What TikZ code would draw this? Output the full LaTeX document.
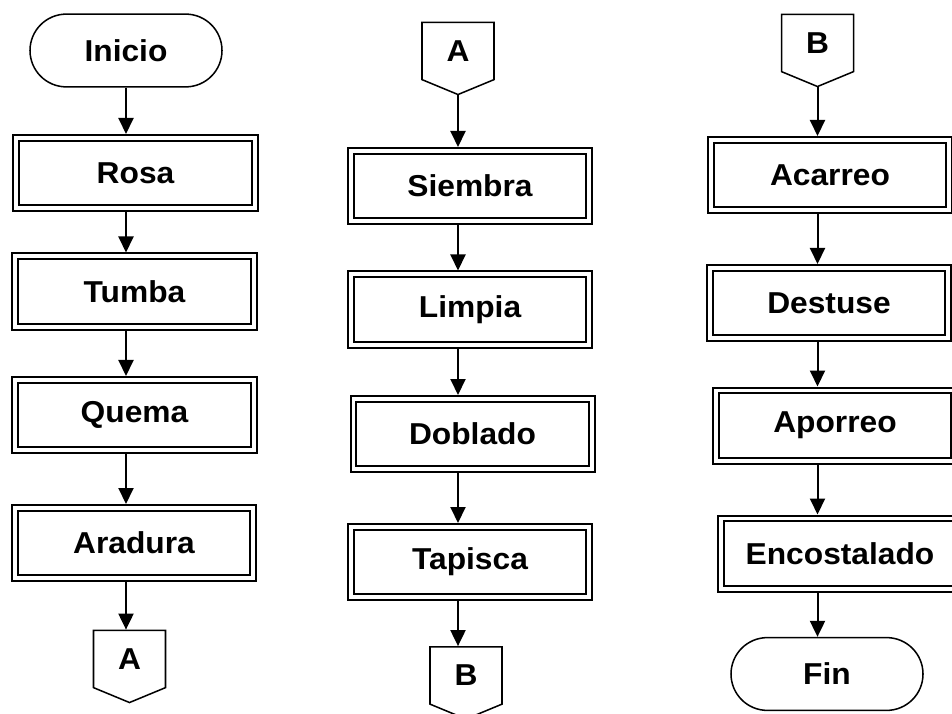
\documentclass[tikz,border=0pt]{standalone}
\usepackage{fontspec}
\setmainfont{Liberation Sans}[FakeStretch=1.05]
\usetikzlibrary{shapes.misc,shapes.symbols,arrows.meta}
\tikzset{
  proceso/.style={draw,double,line width=.5mm,double distance=.9mm,outer sep=.95mm,
    minimum width=59.6mm,minimum height=17.6mm,inner sep=0pt},
  terminal/.style={draw,rounded rectangle,line width=.38mm,minimum width=48mm,
    minimum height=18.2mm,inner sep=0pt},
  conector/.style={draw,signal,signal to=south,signal pointer angle=135,line width=.38mm,
    minimum width=18mm,minimum height=15.5mm,inner sep=0pt},
  flecha/.style={-{Triangle[length=4mm,width=3.75mm]},line width=.5mm}
}
\begin{document}
\begin{tikzpicture}[x=.25mm,y=-.25mm,font=\fontsize{21.5}{25}\selectfont\bfseries]
\clip (0,0) rectangle (952,714);
% primera columna
\node[terminal] (inicio) at (126,50.5) {Inicio};
\node[proceso] (rosa) at (135.5,173) {Rosa};
\node[proceso] (tumba) at (134.5,291.5) {Tumba};
\node[proceso] (quema) at (134.5,415) {Quema};
\node[proceso] (aradura) at (134,543) {Aradura};
\node[conector] (conA1) at (129.5,659) {A};
% segunda columna
\node[conector] (conA2) at (458,51) {A};
\node[proceso] (siembra) at (470,186) {Siembra};
\node[proceso] (limpia) at (470,309.5) {Limpia};
\node[proceso] (doblado) at (472.5,434) {Doblado};
\node[proceso] (tapisca) at (470,562) {Tapisca};
\node[conector] (conB1) at (466,675.5) {B};
% tercera columna
\node[conector] (conB2) at (817.5,43) {B};
\node[proceso] (acarreo) at (830,175) {Acarreo};
\node[proceso] (destuse) at (829,303) {Destuse};
\node[proceso] (aporreo) at (835,425.5) {Aporreo};
\node[proceso] (encostalado) at (840,553.5) {Encostalado};
\node[terminal] (fin) at (827,674) {Fin};
% flechas
\foreach \a/\b in {inicio/rosa,rosa/tumba,tumba/quema,quema/aradura,aradura/conA1}
  \draw[flecha] (inicio.south |- \a.south) -- (inicio.south |- \b.north);
\foreach \a/\b in {conA2/siembra,siembra/limpia,limpia/doblado,doblado/tapisca,tapisca/conB1}
  \draw[flecha] (conA2.south |- \a.south) -- (conA2.south |- \b.north);
\foreach \a/\b in {conB2/acarreo,acarreo/destuse,destuse/aporreo,aporreo/encostalado,encostalado/fin}
  \draw[flecha] (conB2.south |- \a.south) -- (conB2.south |- \b.north);
\end{tikzpicture}
\end{document}
